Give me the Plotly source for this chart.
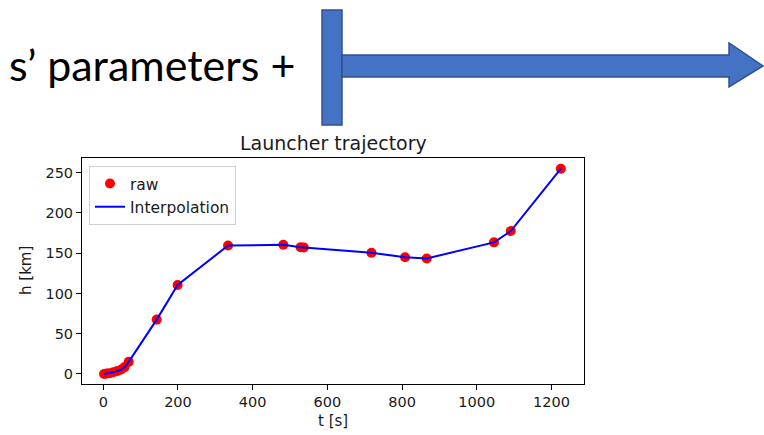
import plotly.graph_objects as go

# ---- data ----
t_s = [2, 9, 17, 27, 37, 48, 57, 68, 143, 199, 334, 482, 528, 537, 718, 808, 866, 1046, 1091, 1225]
h_km = [0, 0.5, 1, 2, 3.5, 5.5, 8.5, 15, 67.5, 110.5, 159.5, 160.5, 157.5, 157, 150.5, 145, 143.5, 163.5, 177.5, 255]
x_ticks = [0, 200, 400, 600, 800, 1000, 1200]
y_ticks = [0, 50, 100, 150, 200, 250]

W, H = 764, 435


def px(x):
    return x / W


def py(y):
    return 1 - y / H


AX_L, AX_R, AX_T, AX_B = 82, 584, 158, 384
FONT = "DejaVu Sans"
TXT = "#1a1a1a"

fig = go.Figure()
fig.add_trace(go.Scatter(
    x=t_s, y=h_km, mode="markers", name="raw",
    marker=dict(color="#ff0000", size=10, line=dict(width=0)),
))
fig.add_trace(go.Scatter(
    x=t_s, y=h_km, mode="lines", name="Interpolation",
    line=dict(color="#0000ff", width=2),
))

axis_common = dict(
    showline=True, linecolor="black", linewidth=1, mirror=True,
    ticks="outside", ticklen=5, tickwidth=1, tickcolor="black",
    showgrid=False, zeroline=False,
    tickfont=dict(family=FONT, size=14.5, color=TXT),
)

fig.update_layout(
    width=W, height=H,
    margin=dict(l=0, r=0, t=0, b=0),
    paper_bgcolor="white", plot_bgcolor="white",
    xaxis=dict(domain=[px(AX_L), px(AX_R)], range=[-57, 1287],
               tickvals=x_ticks, **axis_common),
    yaxis=dict(domain=[py(AX_B), py(AX_T)], range=[-12.5, 268.3],
               tickvals=y_ticks, **axis_common),
    legend=dict(
        x=px(89), y=py(166), xanchor="left", yanchor="top",
        bgcolor="rgba(255,255,255,0.85)", bordercolor="#d0d0d0", borderwidth=1,
        font=dict(family=FONT, size=15.5, color=TXT),
        itemwidth=30, tracegroupgap=0,
    ),
    showlegend=True,
)

annotations = [
    dict(text="Launcher trajectory", x=px((AX_L + AX_R) / 2), y=py(AX_T - 2),
         xref="paper", yref="paper", xanchor="center", yanchor="bottom",
         showarrow=False, font=dict(family=FONT, size=19, color=TXT)),
    dict(text="t [s]", x=px((AX_L + AX_R) / 2), y=py(421),
         xref="paper", yref="paper", xanchor="center", yanchor="middle",
         showarrow=False, font=dict(family=FONT, size=15, color=TXT)),
    dict(text="h [km]", x=px(26), y=py((AX_T + AX_B) / 2),
         xref="paper", yref="paper", xanchor="center", yanchor="middle",
         textangle=-90, showarrow=False, font=dict(family=FONT, size=15, color=TXT)),
    dict(text="s\u2019 parameters +", x=px(297), y=py(64),
         xref="paper", yref="paper", xanchor="right", yanchor="middle",
         showarrow=False, font=dict(family="Lato", size=43, color="black")),
]
fig.update_layout(annotations=annotations)

# slide decoration: blue T-shaped arrow
BLUE = "#4472C4"
EDGE = "#2F528F"
fig.add_shape(type="rect", xref="paper", yref="paper",
              x0=px(322), x1=px(342), y0=py(125), y1=py(10),
              fillcolor=BLUE, line=dict(color=EDGE, width=1.5), layer="above")
arrow_pts = [(342, 55), (729, 55), (729, 43), (763, 66), (729, 87), (729, 77), (342, 77)]
path = "M " + " L ".join(f"{px(x):.5f},{py(y):.5f}" for x, y in arrow_pts) + " Z"
fig.add_shape(type="path", xref="paper", yref="paper", path=path,
              fillcolor=BLUE, line=dict(color=EDGE, width=1.5), layer="above")

fig.write_html("out.html")
